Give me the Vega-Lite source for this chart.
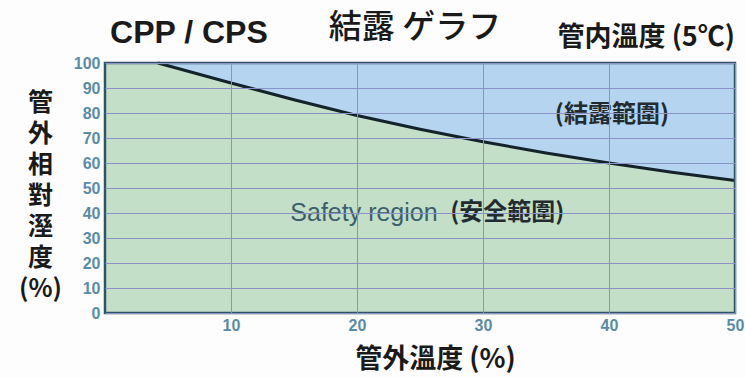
{
  "$schema": "https://vega.github.io/schema/vega-lite/v6.json",
  "width": 630,
  "height": 250,
  "autosize": {"type": "none"},
  "padding": {"left": 105, "top": 63, "right": 10, "bottom": 65},
  "background": "#fdfdfd",
  "config": {
    "view": {"fill": "#b4d4ef", "stroke": null}
  },
  "datasets": {
    "curve": [
      {"x": 0, "y": 100},
      {"x": 4.2, "y": 100},
      {"x": 10, "y": 92},
      {"x": 15, "y": 85.3},
      {"x": 20, "y": 79},
      {"x": 25, "y": 73.5},
      {"x": 30, "y": 68.5},
      {"x": 35, "y": 64},
      {"x": 40, "y": 60},
      {"x": 45, "y": 56.3},
      {"x": 50, "y": 53}
    ],
    "labels": [
      {"x": 0.4, "y": 112, "t": "CPP / CPS", "kind": "left"},
      {"x": 24.6, "y": 114, "t": "結露 ゲラフ", "kind": "center"},
      {"x": 50, "y": 110, "t": "管内溫度 (5℃)", "kind": "right"}
    ]
  },
  "encoding": {
    "x": {
      "field": "x", "type": "quantitative",
      "scale": {"domain": [0, 50], "nice": false, "zero": true},
      "axis": {
        "zindex": 1,
        "values": [10, 20, 30, 40, 50],
        "grid": true,
        "gridColor": "#8b92c8",
        "gridWidth": 1,
        "gridOpacity": 1,
        "domain": false,
        "ticks": false,
        "labelOverlap": false,
        "labelFont": "Liberation Sans",
        "labelFontSize": 16,
        "labelFontWeight": "bold",
        "labelColor": "#5a8ca6",
        "labelPadding": 4,
        "labelFlush": false,
        "title": "管外溫度 (%)",
        "titleFont": "Noto Sans CJK JP",
        "titleFontSize": 27,
        "titleFontWeight": "bold",
        "titleColor": "#1a1a1a",
        "titleAnchor": "start",
        "titleAlign": "center",
        "titleBaseline": "middle",
        "titleX": 330,
        "titleY": 46
      }
    },
    "y": {
      "field": "y", "type": "quantitative",
      "scale": {"domain": [0, 100], "nice": false},
      "axis": {
        "zindex": 1,
        "values": [0, 10, 20, 30, 40, 50, 60, 70, 80, 90, 100],
        "tickCount": 11,
        "grid": true,
        "gridColor": "#8b92c8",
        "gridWidth": 1,
        "gridOpacity": 1,
        "domain": false,
        "ticks": false,
        "labelOverlap": false,
        "labelFont": "Liberation Sans",
        "labelFontSize": 16,
        "labelFontWeight": "bold",
        "labelColor": "#5a8ca6",
        "labelPadding": 5,
        "labelFlush": false,
        "title": ["管", "外", "相", "對", "溼", "度", "(%)"],
        "titleFont": "Noto Sans CJK JP",
        "titleFontSize": 25,
        "titleFontWeight": "bold",
        "titleColor": "#1a1a1a",
        "titleAngle": 0,
        "titleLineHeight": 31,
        "titleAnchor": "start",
        "titleAlign": "center",
        "titleBaseline": "middle",
        "titleX": -65,
        "titleY": 39
      }
    }
  },
  "layer": [
    {
      "data": {"name": "curve"},
      "mark": {"type": "area", "color": "#c3dfc8", "opacity": 1, "zindex": 0},
      "encoding": {
        "y": {
          "field": "y", "type": "quantitative", "stack": null,
          "scale": {"domain": [0, 100], "nice": false},
          "axis": {
            "zindex": 1,
            "values": [0, 10, 20, 30, 40, 50, 60, 70, 80, 90, 100],
            "tickCount": 11,
            "grid": true,
            "gridColor": "#8b92c8",
            "gridWidth": 1,
            "gridOpacity": 1,
            "domain": false,
            "ticks": false,
            "labelOverlap": false,
            "labelFont": "Liberation Sans",
            "labelFontSize": 16,
            "labelFontWeight": "bold",
            "labelColor": "#5a8ca6",
            "labelPadding": 5,
            "labelFlush": false,
            "title": ["管", "外", "相", "對", "溼", "度", "(%)"],
            "titleFont": "Noto Sans CJK JP",
            "titleFontSize": 25,
            "titleFontWeight": "bold",
            "titleColor": "#1a1a1a",
            "titleAngle": 0,
            "titleLineHeight": 31,
            "titleAnchor": "start",
            "titleAlign": "center",
            "titleBaseline": "middle",
            "titleX": -65,
            "titleY": 39
          }
        }
      }
    },
    {
      "data": {"name": "curve"},
      "transform": [{"filter": "datum.x >= 4.2"}],
      "mark": {"type": "line", "color": "#14232a", "strokeWidth": 3, "zindex": 2}
    },
    {
      "data": {"values": [{"x": 0, "xe": 50, "y": 0, "ye": 100}]},
      "mark": {"type": "rect", "fillOpacity": 0, "stroke": "#2d5566", "strokeWidth": 2.5, "zindex": 3},
      "encoding": {
        "x2": {"field": "xe"},
        "y2": {"field": "ye"}
      }
    },
    {
      "data": {"values": [{"x": 26.4, "y": 40.2, "t": "Safety region"}]},
      "mark": {"type": "text", "align": "right", "baseline": "middle", "font": "Liberation Sans", "fontSize": 25, "color": "#3d5f6a", "zindex": 3},
      "encoding": {"text": {"field": "t"}}
    },
    {
      "data": {"values": [{"x": 27.4, "y": 40.2, "t": "(安全範圍)"}, {"x": 35.7, "y": 79.2, "t": "(結露範圍)"}]},
      "mark": {"type": "text", "align": "left", "baseline": "middle", "font": "Noto Sans CJK JP", "fontSize": 24, "fontWeight": "bold", "color": "#222c30", "zindex": 3},
      "encoding": {"text": {"field": "t"}}
    },
    {
      "data": {"name": "labels"},
      "transform": [{"filter": "datum.kind == 'left'"}],
      "mark": {"type": "text", "align": "left", "baseline": "middle", "font": "Liberation Sans", "fontSize": 32, "fontWeight": "bold", "color": "#1a1a1a"},
      "encoding": {"text": {"field": "t"}}
    },
    {
      "data": {"name": "labels"},
      "transform": [{"filter": "datum.kind == 'center'"}],
      "mark": {"type": "text", "align": "center", "baseline": "middle", "font": "Noto Sans CJK JP", "fontSize": 33, "fontWeight": 500, "color": "#1a1a1a"},
      "encoding": {"text": {"field": "t"}}
    },
    {
      "data": {"name": "labels"},
      "transform": [{"filter": "datum.kind == 'right'"}],
      "mark": {"type": "text", "align": "right", "baseline": "middle", "font": "Noto Sans CJK JP", "fontSize": 27, "fontWeight": "bold", "color": "#1a1a1a"},
      "encoding": {"text": {"field": "t"}}
    }
  ]
}
